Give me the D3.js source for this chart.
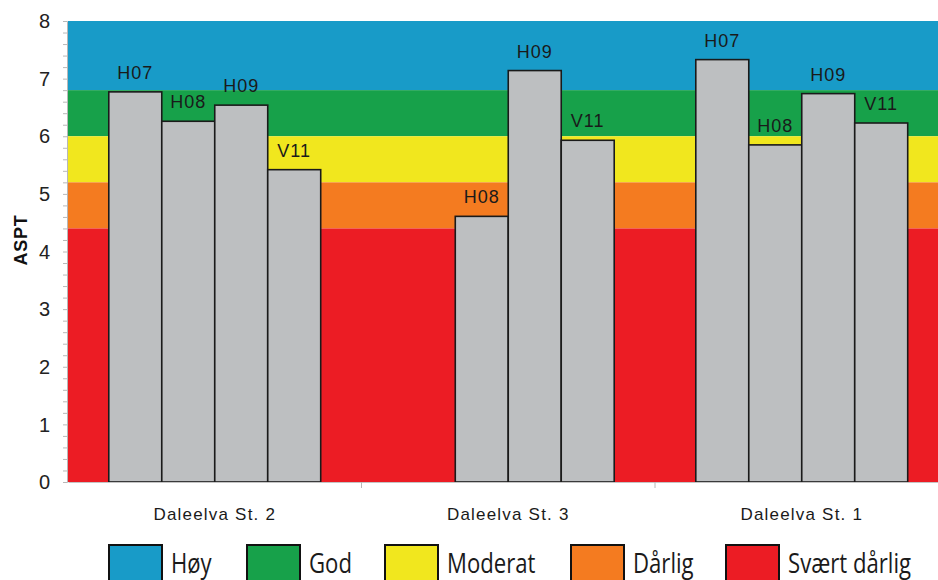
<!DOCTYPE html>
<html>
<head>
<meta charset="utf-8">
<script src="https://cdn.jsdelivr.net/npm/d3@7"></script>
<style>
  html, body { margin: 0; padding: 0; background: #fff; }
  svg { display: block; }
</style>
</head>
<body>
<svg id="chart" width="938" height="580"></svg>
<script>
// ---- data ----
const categories = ["Daleelva St. 2", "Daleelva St. 3", "Daleelva St. 1"];
const seriesNames = ["H07", "H08", "H09", "V11"];
const h07 = [6.77, null, 7.33];
const h08 = [6.26, 4.61, 5.85];
const h09 = [6.54, 7.14, 6.74];
const v11 = [5.42, 5.93, 6.23];
const yTicks = [0, 1, 2, 3, 4, 5, 6, 7, 8];
const classNames = ["Høy", "God", "Moderat", "Dårlig", "Svært dårlig"];
const classLower = [6.8, 6.0, 5.2, 4.4, 0];
const classUpper = [8, 6.8, 6.0, 5.2, 4.4];
const classColors = ["#189bc8", "#17a14a", "#f1e71e", "#f47b20", "#ec1c24"];
const axisTitle = "ASPT";

const seriesValues = [h07, h08, h09, v11];

// ---- layout ----
const svg = d3.select("#chart");
const mLeft = 68, mRight = 948.5, mTop = 21, mBottom = 482;

const y = d3.scaleLinear().domain([0, 8]).range([mBottom, mTop]);
const x0 = d3.scaleBand().domain(categories).range([mLeft, mRight]).padding(0);
const x1 = d3.scaleBand().domain(seriesNames).range([0, x0.bandwidth()])
  .paddingInner(0).paddingOuter(0.77);

// quality class bands
svg.append("g").selectAll("rect")
  .data(classNames.map((n, i) => ({ n, lo: classLower[i], hi: classUpper[i], c: classColors[i] })))
  .join("rect")
  .attr("x", mLeft)
  .attr("width", mRight - mLeft)
  .attr("y", d => y(d.hi))
  .attr("height", d => y(d.lo) - y(d.hi))
  .attr("fill", d => d.c);

// bars
const bars = [];
categories.forEach((cat, ci) => {
  seriesNames.forEach((s, si) => {
    const v = seriesValues[si][ci];
    if (v != null) bars.push({ cat, s, v });
  });
});

const gBars = svg.append("g");
gBars.selectAll("rect")
  .data(bars)
  .join("rect")
  .attr("x", d => x0(d.cat) + x1(d.s))
  .attr("width", x1.bandwidth())
  .attr("y", d => y(d.v))
  .attr("height", d => y(0) - y(d.v))
  .attr("fill", "#bdbfc1")
  .attr("stroke", "#1a1a1a")
  .attr("stroke-width", 1.6);

gBars.selectAll("text")
  .data(bars)
  .join("text")
  .attr("x", d => x0(d.cat) + x1(d.s) + x1.bandwidth() / 2)
  .attr("y", d => y(d.v) - 13)
  .attr("text-anchor", "middle")
  .attr("font-family", "Liberation Sans, Arial, sans-serif")
  .attr("font-size", 18)
  .attr("letter-spacing", 1)
  .attr("fill", "#1a1a1a")
  .text(d => d.s);

// y axis
const minor = d3.range(0, 40.5, 1).map(i => i * 0.2);
const yAxis = d3.axisLeft(y).tickValues(minor).tickSize(4).tickFormat("");
const gy = svg.append("g").attr("transform", `translate(${mLeft - 1},0)`).call(yAxis);
gy.select(".domain").attr("stroke", "#b8b8b8").attr("stroke-width", 1);
gy.selectAll(".tick line").attr("stroke", "#b8b8b8");

svg.append("g").selectAll("text")
  .data(yTicks)
  .join("text")
  .attr("x", 50)
  .attr("y", d => y(d))
  .attr("dy", "0.36em")
  .attr("text-anchor", "end")
  .attr("font-family", "Liberation Sans, Arial, sans-serif")
  .attr("font-size", 20)
  .attr("fill", "#222")
  .text(d => d);

// x axis
const xAxis = d3.axisBottom(x0).tickValues([]).tickSize(0);
const gx = svg.append("g").attr("transform", `translate(0,${mBottom})`).call(xAxis);
gx.select(".domain").attr("stroke", "#c4c4c4");
gx.selectAll("line.sep")
  .data(categories.slice(1))
  .join("line")
  .attr("class", "sep")
  .attr("x1", d => x0(d)).attr("x2", d => x0(d))
  .attr("y1", 0).attr("y2", 6)
  .attr("stroke", "#b8b8b8");

svg.append("g").selectAll("text")
  .data(categories)
  .join("text")
  .attr("x", d => x0(d) + x0.bandwidth() / 2)
  .attr("y", 520)
  .attr("text-anchor", "middle")
  .attr("font-family", "Liberation Sans, Arial, sans-serif")
  .attr("font-size", 17)
  .attr("letter-spacing", 1.2)
  .attr("fill", "#1a1a1a")
  .text(d => d);

// axis title
svg.append("text")
  .attr("transform", "translate(27,240) rotate(-90)")
  .attr("text-anchor", "middle")
  .attr("font-family", "Liberation Sans, Arial, sans-serif")
  .attr("font-weight", "bold")
  .attr("font-size", 18)
  .attr("letter-spacing", 0.8)
  .attr("fill", "#111")
  .text(axisTitle);

// legend
const legendBoxX = [109, 247, 385, 571, 726];
const lg = svg.append("g");
classNames.forEach((n, i) => {
  lg.append("rect")
    .attr("x", legendBoxX[i])
    .attr("y", 545)
    .attr("width", 53)
    .attr("height", 42)
    .attr("fill", classColors[i])
    .attr("stroke", "#111")
    .attr("stroke-width", 2);
  lg.append("text")
    .attr("transform", `translate(${legendBoxX[i] + 62},573) scale(0.82,1)`)
    .attr("font-family", "Open Sans, Noto Sans, sans-serif")
    .attr("font-size", 27)
    .attr("fill", "#1a1a1a")
    .text(n);
});
</script>
</body>
</html>
